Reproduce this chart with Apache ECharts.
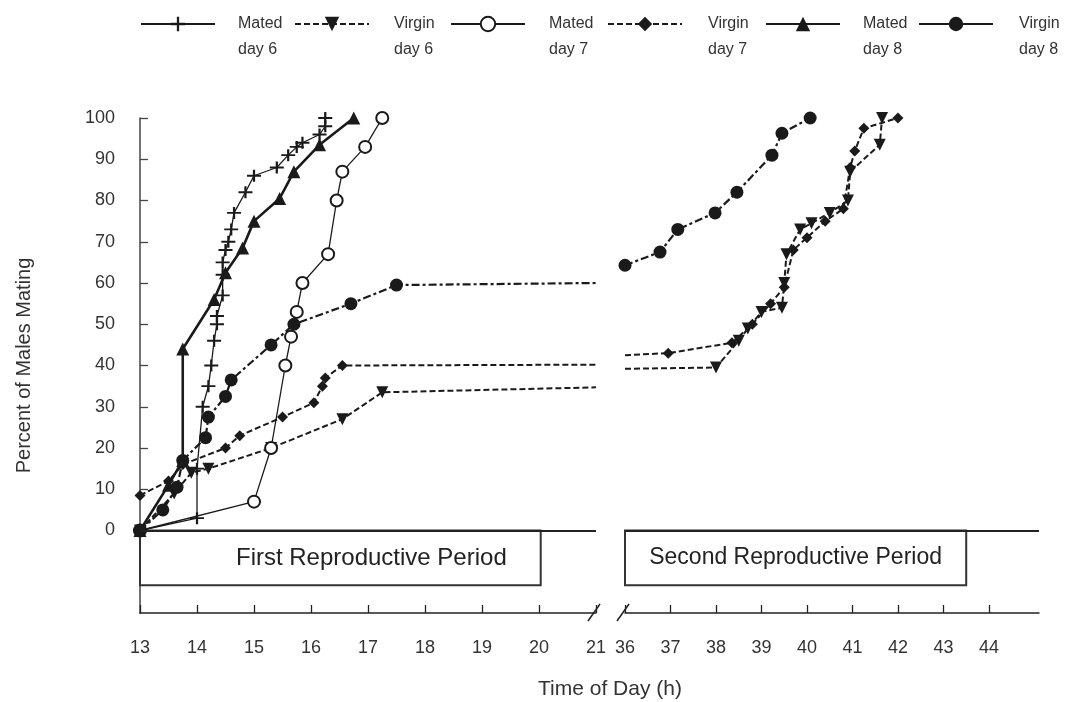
<!DOCTYPE html>
<html>
<head>
<meta charset="utf-8">
<script src="https://cdn.jsdelivr.net/npm/echarts@6/dist/echarts.min.js"></script>
<style>
html, body { margin: 0; padding: 0; background: #fff; }
#main { width: 1067px; height: 702px; }
</style>
</head>
<body>
<div id="main"></div>
<script>
// series names (legend order)
var seriesNames = ['Mated day 6', 'Virgin day 6', 'Mated day 7', 'Virgin day 7', 'Mated day 8', 'Virgin day 8'];

// axis ticks
var yTicks = [0, 10, 20, 30, 40, 50, 60, 70, 80, 90, 100];
var firstTicks = [13, 14, 15, 16, 17, 18, 19, 20, 21];
var secondTicks = [36, 37, 38, 39, 40, 41, 42, 43, 44];

// reproductive periods (hours)
var periodNames = ['First Reproductive Period', 'Second Reproductive Period'];
var firstPeriod = [13, 20.03];
var secondPeriod = [35.96, 43.5];

// first period (13h - 21h)
var matedDay6Time = [13, 14.0, 14.0, 14.1, 14.2, 14.25, 14.3, 14.35, 14.35, 14.45, 14.45, 14.45, 14.5, 14.55, 14.6, 14.65, 14.85, 15.0, 15.4, 15.6, 15.75, 15.85, 16.15, 16.25, 16.25];
var matedDay6Pct  = [0, 3, 15, 30, 35, 40, 46, 50, 52, 57, 62, 65, 68, 70, 73, 77, 82, 86, 88, 91, 93, 94, 96, 98, 100];

var virginDay6Time = [13, 13.6, 13.9, 14.2, 15.3, 16.55, 17.25, 21];
var virginDay6Pct  = [0, 9, 14, 15, 20, 27, 33.5, 34.7];

var matedDay7Time = [13, 15.0, 15.3, 15.55, 15.65, 15.75, 15.85, 16.3, 16.45, 16.55, 16.95, 17.25];
var matedDay7Pct  = [0, 7, 20, 40, 47, 53, 60, 67, 80, 87, 93, 100];

var virginDay7Time = [13, 13.5, 13.75, 14.5, 14.75, 15.5, 16.05, 16.2, 16.25, 16.55, 21];
var virginDay7Pct  = [8.5, 12, 16, 20, 23, 27.5, 31, 35, 37, 40, 40.2];

var matedDay8Time = [13, 13.5, 13.75, 13.75, 14.3, 14.5, 14.8, 15.0, 15.45, 15.7, 16.15, 16.75];
var matedDay8Pct  = [0, 11, 17, 44, 56, 62.5, 68.5, 75, 80.5, 87, 93.5, 100];

var virginDay8Time = [13, 13.4, 13.65, 13.75, 14.15, 14.2, 14.5, 14.6, 15.3, 15.7, 16.7, 17.5, 21];
var virginDay8Pct  = [0, 5, 10.5, 17, 22.5, 27.5, 32.5, 36.5, 45, 50, 55, 59.5, 60];

// second period (36h - 44h)
var virginDay6Time2 = [36, 38.0, 38.5, 38.7, 39.0, 39.45, 39.5, 39.55, 39.85, 40.1, 40.5, 40.9, 40.95, 41.6, 41.65];
var virginDay6Pct2  = [39.2, 39.5, 46, 49, 53, 54, 60, 67, 73, 74.5, 77, 80, 87, 93.5, 100];

var virginDay7Time2 = [36, 36.95, 38.35, 38.8, 39.2, 39.5, 39.7, 40.0, 40.4, 40.8, 40.95, 41.05, 41.25, 42.0];
var virginDay7Pct2  = [42.5, 43, 45.5, 50, 55, 59, 68, 71, 75, 78, 88, 92, 97.5, 100];

var virginDay8Time2 = [36, 36.77, 37.16, 37.98, 38.46, 39.23, 39.45, 40.07];
var virginDay8Pct2  = [64.3, 67.5, 73, 77, 82, 91, 96.3, 100];

var plusPath = 'path://M0,4.2 H10 V5.8 H0 Z M4.2,0 H5.8 V10 H4.2 Z';

// line/marker look per series
var looks = {
	'Mated day 6' : { symbol : plusPath, size : [14, 12], rotate : 0, type : 'solid', width : 1.3 },
	'Virgin day 6' : { symbol : 'triangle', size : 12, rotate : 180, type : [6, 3], width : 2 },
	'Mated day 7' : { symbol : 'emptyCircle', size : 12, rotate : 0, type : 'solid', width : 1.3 },
	'Virgin day 7' : { symbol : 'diamond', size : 11, rotate : 0, type : [6, 3], width : 2 },
	'Mated day 8' : { symbol : 'triangle', size : 13, rotate : 0, type : 'solid', width : 2.6 },
	'Virgin day 8' : { symbol : 'circle', size : 13, rotate : 0, type : [8, 3, 3, 3], width : 2.2 }
};

function pairs(xs, ys, bare) {
	return xs.map(function(x, i) {
		if (i === bare) {
			return { value : [ x, ys[i] ], symbol : 'none' };
		}
		return [ x, ys[i] ];
	});
}

function makeSeries(name, grid, data) {
	var lk = looks[name];
	return {
		name : name,
		type : 'line',
		xAxisIndex : grid,
		yAxisIndex : grid,
		data : data,
		symbol : lk.symbol,
		symbolSize : lk.size,
		symbolRotate : lk.rotate,
		showAllSymbol : true,
		z : 3,
		itemStyle : {
			color : '#1a1a1a',
			borderWidth : lk.symbol === 'emptyCircle' ? 1.3 : 0
		},
		lineStyle : {
			color : '#1a1a1a',
			width : lk.width,
			type : lk.type
		}
	};
}

function periodMarks(period, label, offset, fontSize) {
	return {
		markLine : {
			silent : true,
			symbol : 'none',
			label : { show : false },
			lineStyle : { color : '#222', width : 2, type : 'solid' },
			data : [ { yAxis : 0 } ]
		},
		markArea : {
			silent : true,
			itemStyle : { color : '#fff', borderColor : '#333', borderWidth : 2 },
			label : {
				show : true,
				position : 'inside',
				offset : [ offset, 0 ],
				color : '#222',
				fontSize : fontSize,
				fontFamily : 'Liberation Sans'
			},
			data : [ [ { name : label, xAxis : period[0], yAxis : 0 }, { xAxis : period[1], yAxis : -13.3 } ] ]
		}
	};
}

var s1 = makeSeries('Mated day 6', 0, pairs(matedDay6Time, matedDay6Pct));
Object.assign(s1, periodMarks(firstPeriod, periodNames[0], 31, 24));
var s7 = makeSeries('Virgin day 6', 1, pairs(virginDay6Time2, virginDay6Pct2, 0));
Object.assign(s7, periodMarks(secondPeriod, periodNames[1], 0, 23));

var series = [
	s1,
	makeSeries('Virgin day 6', 0, pairs(virginDay6Time, virginDay6Pct, virginDay6Time.length - 1)),
	makeSeries('Mated day 7', 0, pairs(matedDay7Time, matedDay7Pct)),
	makeSeries('Virgin day 7', 0, pairs(virginDay7Time, virginDay7Pct, virginDay7Time.length - 1)),
	makeSeries('Mated day 8', 0, pairs(matedDay8Time, matedDay8Pct)),
	makeSeries('Virgin day 8', 0, pairs(virginDay8Time, virginDay8Pct, virginDay8Time.length - 1)),
	s7,
	makeSeries('Virgin day 7', 1, pairs(virginDay7Time2, virginDay7Pct2, 0)),
	makeSeries('Virgin day 8', 1, pairs(virginDay8Time2, virginDay8Pct2))
];

// one legend per entry, placed like the original key
var legendLefts = [ 140, 294, 450, 607, 765, 918 ];
var textStarts = [ 237, 393, 548, 707, 862, 1018 ];
var legends = seriesNames.map(function(name, i) {
	return {
		data : [ name ],
		left : legendLefts[i],
		top : -15,
		padding : 0,
		itemWidth : 74,
		itemHeight : 18,
		selectedMode : false,
		formatter : function(n) {
			return ' \n' + n.replace(' day', '\nday');
		},
		lineStyle : name === 'Virgin day 8' ? { type : 'solid' } : {},
		textStyle : {
			fontSize : 16,
			lineHeight : 26,
			color : '#333',
			fontFamily : 'Liberation Sans',
			padding : [ 0, 0, 0, textStarts[i] - legendLefts[i] - 74 - 5 ]
		}
	};
});

var axisFont = {
	fontSize : 18,
	color : '#333',
	fontFamily : 'Liberation Sans'
};

var chart = echarts.init(document.getElementById('main'));
var option = {
	animation : false,
	backgroundColor : '#fff',
	title : {
		text : 'Time of Day (h)',
		left : 538,
		top : 679,
		padding : 0,
		textStyle : { fontSize : 21, fontWeight : 'normal', color : '#333', fontFamily : 'Liberation Sans' }
	},
	legend : legends,
	grid : [ {
		left : 140,
		top : 118,
		width : 456,
		height : 495
	}, {
		left : 625,
		top : 118,
		width : 414,
		height : 495
	} ],
	xAxis : [ {
		gridIndex : 0,
		type : 'value',
		min : 13,
		max : 21,
		interval : 1,
		splitLine : { show : false },
		axisLine : { onZero : false, lineStyle : { color : '#222', width : 1.5 } },
		axisTick : { inside : true, length : 8, lineStyle : { color : '#222', width : 1.3 } },
		axisLabel : Object.assign({ margin : 26 }, axisFont)
	}, {
		gridIndex : 1,
		type : 'value',
		min : 36,
		max : 45.1,
		interval : 1,
		splitLine : { show : false },
		axisLine : { onZero : false, lineStyle : { color : '#222', width : 1.5 } },
		axisTick : { inside : true, length : 8, customValues : secondTicks, lineStyle : { color : '#222', width : 1.3 } },
		axisLabel : Object.assign({ margin : 26, customValues : secondTicks }, axisFont)
	} ],
	yAxis : [ {
		gridIndex : 0,
		type : 'value',
		min : -20,
		max : 100,
		interval : 10,
		name : 'Percent of Males Mating',
		nameLocation : 'middle',
		nameRotate : 90,
		nameGap : 106,
		nameTextStyle : { fontSize : 20, color : '#333', fontFamily : 'Liberation Sans' },
		splitLine : { show : false },
		axisLine : { show : true, onZero : false, lineStyle : { color : '#444', width : 1.5 } },
		axisTick : { inside : true, length : 8, customValues : yTicks, lineStyle : { color : '#444', width : 1.3 } },
		axisLabel : Object.assign({ margin : 25, customValues : yTicks }, axisFont)
	}, {
		gridIndex : 1,
		type : 'value',
		min : -20,
		max : 100,
		show : false
	} ],
	graphic : [ {
		type : 'line',
		shape : { x1 : 588, y1 : 621, x2 : 600, y2 : 604 },
		style : { stroke : '#222', lineWidth : 1.5 }
	}, {
		type : 'line',
		shape : { x1 : 617, y1 : 621, x2 : 629, y2 : 604 },
		style : { stroke : '#222', lineWidth : 1.5 }
	} ],
	series : series
};
chart.setOption(option);
</script>
</body>
</html>
